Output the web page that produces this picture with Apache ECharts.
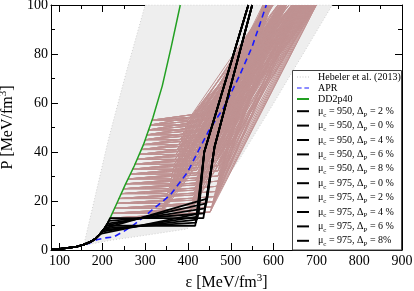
<!DOCTYPE html>
<html><head><meta charset="utf-8">
<script src="https://cdn.jsdelivr.net/npm/echarts@6/dist/echarts.min.js"></script>
<style>html,body{margin:0;padding:0;background:#fff}#c{width:414px;height:291px}</style>
</head><body><div id="c"></div>
<script>
// ---------- tick values ----------
const xTicks = [100, 200, 300, 400, 500, 600, 700, 800, 900];
const xMinorTicks = [150, 250, 350, 450, 550, 650, 750, 850];
// ---------- shared hadronic (low density) curve ----------
const hadronEps = [82, 100, 120, 140, 155, 165, 175, 185, 195, 205, 212, 218];
const hadronP   = [0.2, 0.45, 0.85, 1.4, 2.1, 2.8, 3.6, 4.8, 6.6, 8.8, 10.8, 13];
// ---------- DD2p40 (continuation) ----------
const dd2Eps = [235, 253, 275, 296, 318, 340, 361, 382];
const dd2P   = [19.5, 26.5, 34.5, 43, 54, 67, 83, 100];
// ---------- APR ----------
const aprEps = [140, 150, 170, 187, 205, 226, 250, 270, 300, 330, 359, 398, 420, 448, 483, 520, 550, 583];
const aprP   = [1.4, 1.8, 2.8, 4.2, 4.9, 5.3, 7.6, 9.8, 14, 18.3, 22.5, 31.5, 39, 48.5, 58, 71, 83, 100];
// ---------- Hebeler et al. (2013) band ----------
const bandStiffEps = [140, 150, 158, 170, 190, 214, 255, 300];
const bandStiffP   = [1.1, 1.5, 3, 12, 27, 45, 72, 100];
const bandSoftEps  = [737, 655, 590, 520, 460, 415, 398, 300, 220, 155, 140];
const bandSoftP    = [100, 76, 57, 37, 22, 13, 8.6, 6, 4, 1.8, 1.1];
// ---------- hybrid EoS family (brown) ----------
const brownLevelP   = [13, 15, 17, 19, 21, 23, 25, 27, 29, 31, 33, 35, 37, 39, 41, 43, 45, 47, 49, 51, 53];
const brownLevelEps = [218, 223, 228, 233, 238, 244, 249, 254, 260, 265, 271, 276, 281, 286, 291, 296, 300, 304, 308, 312, 316];
const brownEndEps = [
  [330, 400, 452], [335, 405, 456], [340, 408, 460], [345, 410, 463], [350, 412, 466],
  [352, 414, 468], [355, 416, 470], [358, 418, 470], [360, 420, 470], [362, 420, 470],
  [365, 422, 468], [368, 422, 466], [370, 424, 464], [372, 424, 462], [375, 425, 458],
  [378, 426, 455], [382, 426, 452], [386, 428, 450], [390, 428, 448], [395, 430, 445],
  [400, 430, 442]];
const brownEndP = [
  [13, 14.2, 15.5], [15, 16.2, 17.6], [17, 18.3, 19.7], [19, 20.3, 21.8], [21, 22.4, 23.9],
  [23, 24.4, 26], [25, 26.5, 28.1], [27, 28.5, 30.2], [29, 30.6, 32.3], [31, 32.6, 34.4],
  [33, 34.7, 36.5], [35, 36.7, 38.6], [37, 38.8, 40.7], [39, 40.8, 42.8], [41, 42.9, 44.9],
  [43, 44.9, 47], [45, 47, 49.1], [47, 49, 51.2], [49, 51, 53.3], [51, 53, 55.4],
  [53, 54.5, 56]];
const brownTopEps = [
  [575, 620, 660, 700], [580, 625, 665, 700], [585, 620, 660, 698], [590, 625, 662, 696], [578, 615, 655, 694],
  [583, 620, 658, 692], [588, 625, 660, 690], [593, 630, 662, 688], [580, 618, 650, 686], [585, 622, 654, 684],
  [590, 626, 656, 682], [595, 630, 658, 680], [582, 616, 648, 678], [587, 620, 650, 676], [592, 624, 652, 674],
  [597, 628, 654, 672], [584, 612, 642, 670], [589, 616, 644, 668], [594, 620, 646, 666], [599, 624, 648, 664],
  [586, 610, 636, 662]];
// ---------- black hybrid EoS (legend order) ----------
const blackKeys    = ['950_2', '950_0', '950_4', '950_6', '950_8', '975_0', '975_2', '975_4', '975_6', '975_8'];
const blackMuC     = [950, 950, 950, 950, 950, 975, 975, 975, 975, 975];
const blackDeltaP  = ['2 %', '0 %', '4 %', '6 %', '8 %', '0 %', '2 %', '4 %', '6 %', '8%'];
const blackStartEps = [205, 209, 202, 199, 196, 218, 215, 212, 209, 206];
const blackStartP   = [8.8, 9.9, 8.1, 7.5, 6.8, 13, 11.9, 10.8, 9.9, 9.1];
const blackEndEps   = [419, 417, 421, 423, 425, 436, 438, 440, 443, 445];
const blackEndP     = [11.2, 9.9, 12.4, 13.6, 14.8, 13, 15, 17, 19, 21];
const blackKneeEps  = [438, 438, 438, 438, 438, 462, 462, 462, 462, 462];
const blackKneeP    = [40, 40, 40, 40, 40, 42, 42, 42, 42, 42];
const blackTopEps   = [541, 541, 541, 541, 541, 550, 550, 550, 550, 550];

const FONT = 'Liberation Serif';
const zip = (a, b) => a.map((v, i) => [v, b[i]]);
const hadron = zip(hadronEps, hadronP);

const series = [];
// band fill
const bandPoly = zip(bandStiffEps, bandStiffP).concat(zip(bandSoftEps, bandSoftP));
series.push({
  type: 'custom', silent: true, z: 1, clip: true, data: [[bandStiffEps[0], bandStiffP[0]]],
  renderItem: (params, api) => ({
    type: 'polygon',
    shape: { points: bandPoly.map(p => api.coord(p)) },
    style: { fill: '#eeeeee', stroke: null }
  })
});
series.push({
  name: 'Hebeler et al. (2013)', type: 'line', z: 2, silent: true, symbol: 'none', color: '#c8c8c8',
  data: bandPoly, lineStyle: { color: '#d0d0d0', width: 1, type: [1, 2] }
});
// brown lines
for (let i = 0; i < brownLevelP.length; i++) {
  for (let j = 0; j < brownEndEps[i].length; j++) {
    for (let k = 0; k < brownTopEps[i].length; k++) {
      series.push({
        type: 'line', z: 3, silent: true, symbol: 'none',
        data: [[brownLevelEps[i], brownLevelP[i]], [brownEndEps[i][j], brownEndP[i][j]], [brownTopEps[i][k], 100]],
        lineStyle: { color: '#bf9292', width: 1 }
      });
    }
  }
}
// green
series.push({
  name: 'DD2p40', type: 'line', z: 4, silent: true, symbol: 'none', color: '#22a022',
  data: hadron.concat(zip(dd2Eps, dd2P)), lineStyle: { color: '#22a022', width: 1.5 }
});
// APR
series.push({
  name: 'APR', type: 'line', z: 5, silent: true, symbol: 'none', color: '#1a1aff',
  data: zip(aprEps, aprP), lineStyle: { color: '#1a1aff', width: 1.6, type: [6, 4] }
});
// black
for (let i = 0; i < blackKeys.length; i++) {
  const pts = hadron.filter(p => p[0] < blackStartEps[i]);
  pts.push([blackStartEps[i], blackStartP[i]], [blackEndEps[i], blackEndP[i]],
           [blackKneeEps[i], blackKneeP[i]], [blackTopEps[i], 100]);
  series.push({
    name: blackKeys[i], type: 'line', z: 6, silent: true, symbol: 'none', color: '#000',
    data: pts, lineStyle: { color: '#000', width: 1.8 }
  });
}

function legendText(name) {
  const i = blackKeys.indexOf(name);
  if (i < 0) return name;
  return '{t|μ}{s|c}{t| = ' + blackMuC[i] + ', Δ}{s|P}{t| = ' + blackDeltaP[i] + '}';
}

const axisLine = { show: true, lineStyle: { color: '#000', width: 1 } };
const xBase = { type: 'value', min: 80, max: 900, splitLine: { show: false } };
const yBase = { type: 'value', min: 0, max: 100, interval: 20, splitLine: { show: false } };
const titleRich = {
  t: { fontFamily: FONT, fontSize: 16, color: '#000', lineHeight: 20 },
  sup: { fontFamily: FONT, fontSize: 11, color: '#000', verticalAlign: 'top', lineHeight: 20 }
};

const option = {
  animation: false,
  backgroundColor: '#fff',
  grid: { left: 51, top: 5, right: 12, bottom: 41, outerBoundsMode: 'none', containLabel: false },
  xAxis: [
    Object.assign({}, xBase, {
      position: 'bottom', axisLine,
      axisTick: { inside: true, length: 7, customValues: xTicks, lineStyle: { color: '#000' } },
      axisLabel: { customValues: xTicks, fontFamily: FONT, fontSize: 14, color: '#000', margin: 4 },
      name: '{t|ε [MeV/fm}{sup|3}{t|]}', nameLocation: 'middle', nameGap: 19,
      nameTextStyle: { fontFamily: FONT, fontSize: 16, color: '#000', rich: titleRich }
    }),
    Object.assign({}, xBase, {
      position: 'bottom', axisLine: { show: false },
      axisTick: { inside: true, length: 4, customValues: xMinorTicks, lineStyle: { color: '#000' } },
      axisLabel: { show: false }
    }),
    Object.assign({}, xBase, {
      position: 'top', axisLine,
      axisTick: { inside: true, length: 7, customValues: xTicks, lineStyle: { color: '#000' } },
      axisLabel: { show: false }
    }),
    Object.assign({}, xBase, {
      position: 'top', axisLine: { show: false },
      axisTick: { inside: true, length: 4, customValues: xMinorTicks, lineStyle: { color: '#000' } },
      axisLabel: { show: false }
    })
  ],
  yAxis: [
    Object.assign({}, yBase, {
      position: 'left', axisLine,
      axisTick: { inside: true, length: 7, lineStyle: { color: '#000' } },
      minorTick: { show: true, splitNumber: 2, length: 4, lineStyle: { color: '#000' } },
      minorSplitLine: { show: false },
      axisLabel: { fontFamily: FONT, fontSize: 14, color: '#000', margin: 3 },
      name: '{t|P [MeV/fm}{sup|3}{t|]}', nameLocation: 'middle', nameGap: 28, nameRotate: 90,
      nameTextStyle: { fontFamily: FONT, fontSize: 16, color: '#000', rich: titleRich }
    }),
    Object.assign({}, yBase, {
      position: 'right', axisLine,
      axisTick: { inside: true, length: 7, lineStyle: { color: '#000' } },
      minorTick: { show: true, splitNumber: 2, length: 4, lineStyle: { color: '#000' } },
      minorSplitLine: { show: false },
      axisLabel: { show: false }
    })
  ],
  graphic: [{
    type: 'rect', z: 100, silent: true,
    shape: { x: 292.5, y: 70.5, width: 109, height: 179.5 },
    style: { fill: '#fff', stroke: '#444', lineWidth: 1 }
  }],
  legend: [
    {
      z: 110, orient: 'vertical', left: 297, top: 71.5, padding: 0, itemGap: 0,
      itemWidth: 12, itemHeight: 2, selectedMode: false,
      data: [
        { name: 'Hebeler et al. (2013)', icon: 'path://M0,0h1v1h-1z M3,0h1v1h-1z M6,0h1v1h-1z M9,0h1v1h-1z M12,0h1v1h-1z', itemStyle: { color: '#c0c0c0' } },
        { name: 'APR', icon: 'path://M0,0h5v1h-5z M8,0h5v1h-5z', itemStyle: { color: '#1a1aff' } },
        { name: 'DD2p40', icon: 'rect', itemStyle: { color: '#22a022' } }
      ],
      textStyle: { fontFamily: FONT, fontSize: 10, color: '#000', lineHeight: 11, padding: [0, 0, 0, 4] }
    },
    {
      z: 110, orient: 'vertical', left: 297, top: 104.2, padding: 0, itemGap: 0.4,
      itemWidth: 12, itemHeight: 2, selectedMode: false,
      data: blackKeys.map(k => ({ name: k, icon: 'rect', itemStyle: { color: '#000' } })),
      formatter: legendText,
      textStyle: { fontFamily: FONT, fontSize: 10, color: '#000', lineHeight: 14, padding: [0, 0, 0, 4],
        rich: { t: { fontFamily: FONT, fontSize: 10, color: '#000', lineHeight: 14 },
                s: { fontFamily: FONT, fontSize: 7, color: '#000', verticalAlign: 'bottom', lineHeight: 14 } } }
    }
  ],
  series
};
const chart = echarts.init(document.getElementById('c'), null, { renderer: 'canvas' });
chart.setOption(option);
</script></body></html>
